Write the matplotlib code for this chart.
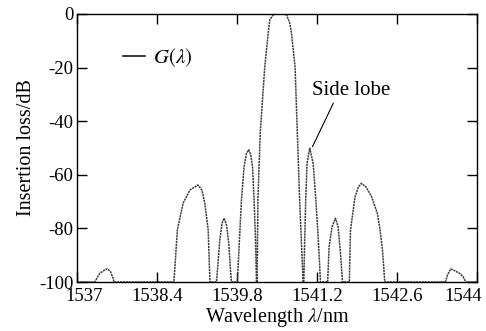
import matplotlib
matplotlib.use("Agg")
import matplotlib.pyplot as plt
from matplotlib.lines import Line2D
import matplotlib.transforms as mtransforms
import numpy as np

plt.rcParams['font.family'] = ['Liberation Serif', 'DejaVu Serif']
plt.rcParams['mathtext.fontset'] = 'stix'
plt.rcParams['axes.unicode_minus'] = False

# Lobes of G(lambda) (wavelength nm, insertion loss dB)
lobe_far_left_wl = [1537.315, 1537.40, 1537.46, 1537.53, 1537.59, 1537.635, 1537.65]
lobe_far_left_db = [-100, -96.8, -95.9, -95.1, -96.1, -98.6, -100]

lobe_l3_wl = [1538.70, 1538.76, 1538.86, 1538.98, 1539.12, 1539.19, 1539.24, 1539.30, 1539.33]
lobe_l3_db = [-100, -80.6, -70.6, -65.7, -63.8, -65.7, -70.6, -80.6, -100]

lobe_l2_wl = [1539.445, 1539.503, 1539.543, 1539.578, 1539.620, 1539.66, 1539.69, 1539.707]
lobe_l2_db = [-100, -84.3, -78.1, -76.2, -78.7, -85.6, -95.5, -100]

lobe_l1_wl = [1539.812, 1539.823, 1539.882, 1539.928, 1539.970, 1540.01, 1540.045, 1540.075, 1540.103, 1540.128, 1540.145]
lobe_l1_db = [-100, -94.3, -69.4, -57.0, -52.0, -50.7, -52.6, -57.0, -69.4, -84.3, -100]

main_wl = [1540.155, 1540.17, 1540.21, 1540.29, 1540.35, 1540.378, 1540.44, 1540.50, 1540.60, 1540.67, 1540.728, 1540.757, 1540.82, 1540.86, 1540.90, 1540.96]
main_db = [-100, -69.4, -44.5, -19.7, -7.2, -2.2, -0.3, 0, 0, -0.3, -3.5, -7.2, -19.7, -44.5, -69.4, -100]

lobe_r1_wl = [1540.973, 1540.99, 1541.008, 1541.03, 1541.078, 1541.136, 1541.18, 1541.224, 1541.265]
lobe_r1_db = [-100, -83.1, -68.2, -55.7, -50.1, -55.7, -68.2, -83.1, -100]

lobe_r2_wl = [1541.39, 1541.416, 1541.468, 1541.527, 1541.573, 1541.615, 1541.65]
lobe_r2_db = [-100, -86.8, -79.4, -76.2, -79.4, -89.3, -100]

lobe_r3_wl = [1541.77, 1541.79, 1541.87, 1541.93, 1541.98, 1542.06, 1542.16, 1542.26, 1542.30, 1542.35, 1542.39]
lobe_r3_db = [-100, -80.6, -68.2, -64.5, -63.2, -64.5, -68.2, -74.4, -79.4, -88.0, -100]

lobe_far_right_wl = [1543.452, 1543.487, 1543.545, 1543.615, 1543.703, 1543.761, 1543.808]
lobe_far_right_db = [-100, -97.4, -95.1, -95.8, -96.8, -98.0, -100]

x_ticks = [1537, 1538.4, 1539.8, 1541.2, 1542.6, 1544]
x_tick_labels = ["1537", "1538.4", "1539.8", "1541.2", "1542.6", "1544"]
y_ticks = [0, -20, -40, -60, -80, -100]
y_tick_labels = ["0", "-20", "-40", "-60", "-80", "-100"]

wl = np.concatenate([[1537.0], lobe_far_left_wl, lobe_l3_wl, lobe_l2_wl, lobe_l1_wl, main_wl,
                     lobe_r1_wl, lobe_r2_wl, lobe_r3_wl, lobe_far_right_wl, [1544.0]])
db = np.concatenate([[-100], lobe_far_left_db, lobe_l3_db, lobe_l2_db, lobe_l1_db, main_db,
                     lobe_r1_db, lobe_r2_db, lobe_r3_db, lobe_far_right_db, [-100]])

fig = plt.figure(figsize=(4.86, 3.31), dpi=100)
ax = fig.add_axes([0.158, 0.148, 0.823, 0.810])

ax.plot(wl, db, color='#3c3c3c', lw=1.1, linestyle=(0, (1.4, 0.5)))

ax.set_xlim(1537, 1544)
ax.set_ylim(-100, 0)
ax.set_xticks(x_ticks)
ax.set_xticklabels(x_tick_labels)
ax.set_yticks(y_ticks)
ax.set_yticklabels(y_tick_labels)
ax.tick_params(direction='in', length=7, width=1.0, top=True, right=True,
               labelsize=13.5, colors='black')
ax.tick_params(axis='x', pad=4.5)
ax.tick_params(axis='y', pad=2.5)
for s in ax.spines.values():
    s.set_linewidth(1.0)

# nudge the end x tick labels inward as in the original
xlabels = ax.get_xticklabels()
xlabels[0].set_transform(xlabels[0].get_transform() +
                         mtransforms.ScaledTranslation(7 / 100, 0, fig.dpi_scale_trans))
xlabels[-1].set_transform(xlabels[-1].get_transform() +
                          mtransforms.ScaledTranslation(-14 / 100, 0, fig.dpi_scale_trans))

ax.set_xlabel("Wavelength $\\lambda$/nm", fontsize=14.5, labelpad=0.5)
ax.set_ylabel("Insertion loss/dB", fontsize=14.5, labelpad=2)

ax.legend(handles=[Line2D([], [], color='black', lw=1.1)], labels=["$G(\\lambda)$"],
          loc='center left', bbox_to_anchor=(0.115, 0.837), frameon=False,
          borderaxespad=0, borderpad=0,
          fontsize=15, handlelength=1.05, handletextpad=0.4)

ax.text(1541.11, -28.4, "Side lobe", fontsize=15, va='center', ha='left')
ax.annotate("", xy=(1541.125, -49.5), xytext=(1541.49, -33.3),
            arrowprops=dict(arrowstyle='-', color='black', lw=0.8,
                            shrinkA=0, shrinkB=0))

fig.savefig("out.png", dpi=100)
